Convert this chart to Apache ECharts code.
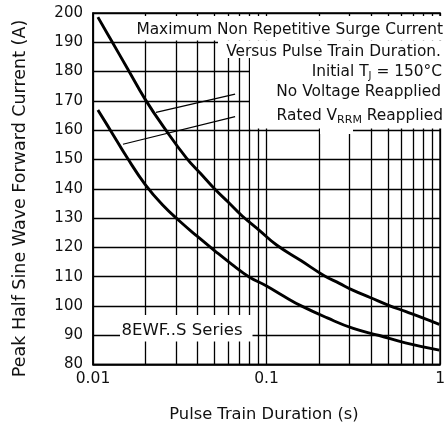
<!DOCTYPE html>
<html><head><meta charset="utf-8">
<script src="https://cdn.jsdelivr.net/npm/echarts@6/dist/echarts.min.js"></script>
<style>html,body{margin:0;padding:0;background:#fff}#c{width:448px;height:429px}</style>
</head><body><div id="c"></div>
<script>
// Pulse train duration (s) and peak current (A)
const upperT = [0.01067, 0.01259, 0.01585, 0.01995, 0.02630, 0.03467, 0.04169, 0.05012, 0.06026, 0.07244, 0.09120, 0.1148, 0.1585, 0.2138, 0.2630, 0.3162, 0.3981, 0.5012, 0.6310, 0.7943, 0.99];
const upperV = [198.6, 191.2, 180.9, 170.6, 160.0, 150.4, 145.2, 140.0, 135.4, 130.7, 125.7, 120.7, 115.4, 110.4, 107.7, 105.3, 102.8, 100.3, 98.1, 95.9, 93.7];
const lowerT = [0.01067, 0.01259, 0.01585, 0.01995, 0.02512, 0.03162, 0.03981, 0.05012, 0.0631, 0.07943, 0.1, 0.1259, 0.1585, 0.2239, 0.3162, 0.4467, 0.631, 0.99];
const lowerV = [166.9, 160.0, 150.3, 141.5, 134.5, 128.9, 123.8, 118.9, 114.2, 109.9, 106.8, 103.3, 100.0, 95.9, 92.3, 89.9, 87.4, 84.9];
const gridX = [0.02,0.03,0.04,0.05,0.06,0.07,0.08,0.09,0.2,0.3,0.4,0.5,0.6,0.7,0.8,0.9];
const xMin = 0.01, xMax = 1;
const yMin = 80, yMax = 200, yStep = 10;
// leader lines (data coords): from curve to label
const leaderUpper = [[0.02307, 166.1], [0.0659, 172.3]];
const leaderLower = [[0.01488, 155.2], [0.0659, 164.6]];

const FONT = 'DejaVu Sans';
const chart = echarts.init(document.getElementById('c'), null, {renderer:'canvas'});
const zip = (a,b) => a.map((v,i)=>[v,b[i]]);
chart.setOption({
  animation:false,
  backgroundColor:'#fff',
  grid:{left:93, top:13, width:351, height:351.5, show:true, borderColor:'#000', borderWidth:1.5, backgroundColor:'transparent'},
  xAxis:{type:'log', logBase:10, min:xMin, max:xMax,
    axisLine:{show:true, lineStyle:{color:'#000', width:1.5}},
    axisTick:{show:false},
    splitLine:{show:true, lineStyle:{color:'#000', width:1.3}},
    axisLabel:{color:'#111', fontFamily:FONT, fontSize:15.5, margin:6,
      formatter:v => String(v)}
  },
  yAxis:{type:'value', min:yMin, max:yMax, interval:yStep,
    axisLine:{show:true, lineStyle:{color:'#000', width:1.5}},
    axisTick:{show:false},
    splitLine:{show:true, lineStyle:{color:'#000', width:1.3}},
    axisLabel:{color:'#111', fontFamily:FONT, fontSize:15, margin:10}
  },
  series:[
    {type:'line', data:[], z:1, silent:true,
     markLine:{silent:true, symbol:['none','none'], label:{show:false},
       lineStyle:{color:'#000', width:1.3, type:'solid'},
       data: gridX.map(x=>({xAxis:x}))}},
    {type:'line', data:zip(upperT, upperV), smooth:0.45, showSymbol:false, z:5,
     lineStyle:{color:'#000', width:2.9}},
    {type:'line', data:zip(lowerT, lowerV), smooth:0.45, showSymbol:false, z:5,
     lineStyle:{color:'#000', width:2.9},
     markLine:{silent:true, symbol:['none','none'], label:{show:false},
       lineStyle:{color:'#000', width:1.2, type:'solid'},
       data:[[{coord:leaderUpper[0]},{coord:leaderUpper[1]}],[{coord:leaderLower[0]},{coord:leaderLower[1]}]]}}
  ],
  graphic:[
    {type:'rect', z:50, shape:{x:133, y:16, width:310, height:24.5}, style:{fill:'#fff'}},
    {type:'rect', z:50, shape:{x:218, y:40.5, width:225, height:17.5}, style:{fill:'#fff'}},
    {type:'rect', z:50, shape:{x:250, y:58, width:193, height:70.5}, style:{fill:'#fff'}},
    {type:'rect', z:50, shape:{x:320, y:128, width:33, height:6}, style:{fill:'#fff'}},
    {type:'rect', z:50, shape:{x:120, y:315, width:132.5, height:26.5}, style:{fill:'#fff'}},
    {type:'text', z:60, x:443, y:29.5, style:{text:'Maximum Non Repetitive Surge Current', align:'right', verticalAlign:'middle', font:'15.4px "DejaVu Sans"', fill:'#111'}},
    {type:'text', z:60, x:441, y:51.5, style:{text:'Versus Pulse Train Duration.', align:'right', verticalAlign:'middle', font:'15.4px "DejaVu Sans"', fill:'#111'}},
    {type:'text', z:60, x:442, y:71.5, style:{text:'{m|Initial T}{s|J}{m| = 150°C}', align:'right', verticalAlign:'middle',
      rich:{m:{fontFamily:FONT, fontSize:15.4, lineHeight:20, verticalAlign:'middle', fill:'#111', color:'#111'},
            s:{fontFamily:FONT, fontSize:10, lineHeight:12, verticalAlign:'bottom', fill:'#111', color:'#111'}}}},
    {type:'text', z:60, x:441, y:92, style:{text:'No Voltage Reapplied', align:'right', verticalAlign:'middle', font:'15.4px "DejaVu Sans"', fill:'#111'}},
    {type:'text', z:60, x:443, y:115.5, style:{text:'{m|Rated V}{s|RRM}{m| Reapplied}', align:'right', verticalAlign:'middle',
      rich:{m:{fontFamily:FONT, fontSize:15.4, lineHeight:20, verticalAlign:'middle', fill:'#111', color:'#111'},
            s:{fontFamily:FONT, fontSize:11, lineHeight:12, verticalAlign:'bottom', fill:'#111', color:'#111'}}}},
    {type:'text', z:60, x:121.5, y:331, style:{text:'8EWF..S Series', align:'left', verticalAlign:'middle', font:'16.5px "DejaVu Sans"', fill:'#111'}},
    {type:'text', z:60, x:264, y:415, style:{text:'Pulse Train Duration (s)', align:'center', verticalAlign:'middle', font:'16.3px "DejaVu Sans"', fill:'#111'}},
    {type:'text', z:60, x:20, y:198.5, rotation:Math.PI/2, style:{text:'Peak Half Sine Wave Forward Current (A)', align:'center', verticalAlign:'middle', font:'17.5px "DejaVu Sans"', fill:'#111'}}
  ]
});
</script></body></html>
